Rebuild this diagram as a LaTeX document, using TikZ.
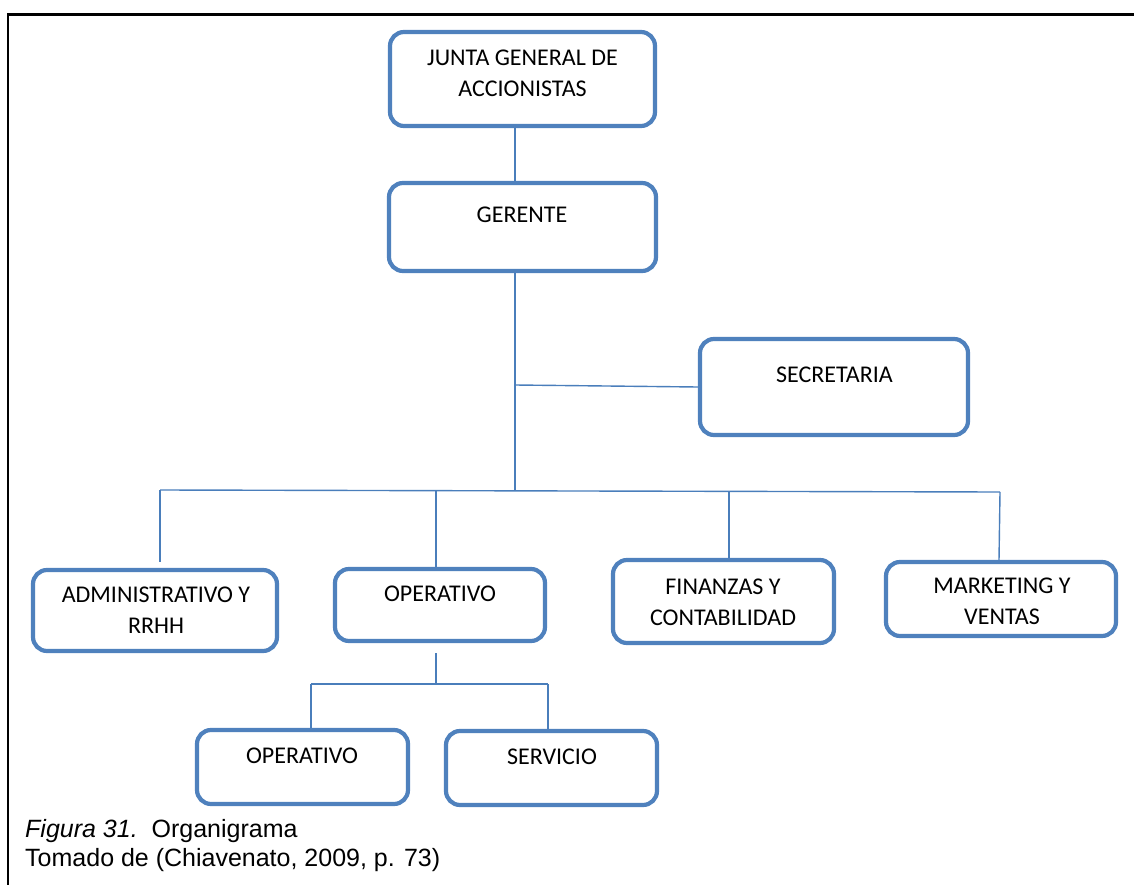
\documentclass[tikz,border=0pt]{standalone}
\usepackage{fontspec}
\setmainfont{Carlito}
\newfontfamily\captionfont{Liberation Sans}
\definecolor{boxblue}{HTML}{4F81BD}
\definecolor{linkblue}{HTML}{4A7EBB}

\tikzset{
  orgbox/.style 2 args={draw=boxblue, line width=4.2pt, rounded corners=14pt,
    fill=white, minimum width=#1pt, minimum height=#2pt, inner sep=0pt},
  boxtext/.style={font=\fontsize{24}{31}\selectfont, align=center, inner sep=0pt, text=black},
  link/.style={draw=linkblue, line width=1.4pt},
  frameline/.style={draw=black, line width=2.4pt},
  captext/.style={font=\captionfont\fontsize{25}{31}\selectfont, anchor=base west, inner sep=0pt}
}

\begin{document}
\begin{tikzpicture}[x=1pt,y=-1pt]
\useasboundingbox (0,0) rectangle (1134,885);

% page frame (top and left rules)
\coordinate (frameBL) at (8,885);
\coordinate (frameTL) at (8,14.5);
\coordinate (frameTR) at (1134,14.5);
\draw[frameline] (frameBL) -- (frameTL) -- (frameTR);

% boxes
\node[orgbox={265}{94}] (junta) at (522.5,79) {};
\node[orgbox={267}{88}] (gerente) at (522.5,227) {};
\node[orgbox={268}{96}] (secretaria) at (834,387) {};
\node[orgbox={244}{81}] (admin) at (155,610.5) {};
\node[orgbox={210}{72}] (operativo) at (440,605) {};
\node[orgbox={221}{83}] (finanzas) at (723.5,601.5) {};
\node[orgbox={230}{74}] (marketing) at (1001,599) {};
\node[orgbox={211}{74}] (opsub) at (302.5,767) {};
\node[orgbox={211}{74}] (servicio) at (551.5,768) {};

% box labels
\node[boxtext] (junta-t) at (522.5,73.5) {JUNTA GENERAL DE\\ACCIONISTAS};
\node[boxtext] (gerente-t) at (522,215) {GERENTE};
\node[boxtext] (secretaria-t) at (834.5,375) {SECRETARIA};
\node[boxtext] (admin-t) at (156,610) {ADMINISTRATIVO Y\\RRHH};
\node[boxtext] (operativo-t) at (440,594) {OPERATIVO};
\node[boxtext] (finanzas-t) at (723,602) {FINANZAS Y\\CONTABILIDAD};
\node[boxtext] (marketing-t) at (1002,601) {MARKETING Y\\VENTAS};
\node[boxtext] (opsub-t) at (302,755.5) {OPERATIVO};
\node[boxtext] (servicio-t) at (552,757) {SERVICIO};

% junction points
\coordinate (secJoin) at (515,385);
\coordinate (hub) at (515,491);
\coordinate (busL) at (160,490);
\coordinate (busR) at (1000,492);
\coordinate (adminEnd) at (160,562);
\coordinate (opBus) at (436,490.5);
\coordinate (finBus) at (729,491.2);
\coordinate (opDrop) at (436,653);
\coordinate (subHub) at (436,684);
\coordinate (subL) at (311,684);
\coordinate (subR) at (548,684);

% connectors
\draw[link] ([xshift=-7.5pt]junta.south) -- ([xshift=-7.5pt]gerente.north);
\draw[link] ([xshift=-7.5pt]gerente.south) -- (hub);
\draw[link] (secJoin) -- (secretaria.west);
\draw[link] (busL) -- (busR);
\draw[link] (busL) -- (adminEnd);
\draw[link] (opBus) -- ([xshift=-4pt]operativo.north);
\draw[link] (finBus) -- ([xshift=5.5pt]finanzas.north);
\draw[link] (busR) -- ([xshift=-2pt]marketing.north);
\draw[link] (opDrop) -- (subHub);
\draw[link] (subL) -- (subR);
\draw[link] (subL) -- ([xshift=8.5pt]opsub.north);
\draw[link] (subR) -- ([xshift=-3.5pt]servicio.north);

% caption
\node[captext] (cap1) at (25,837) {\textit{Figura 31.}\ \ Organigrama};
\node[captext] (cap2) at (25,866) {Tomado de (Chiavenato, 2009, p. 73)};
\end{tikzpicture}
\end{document}
